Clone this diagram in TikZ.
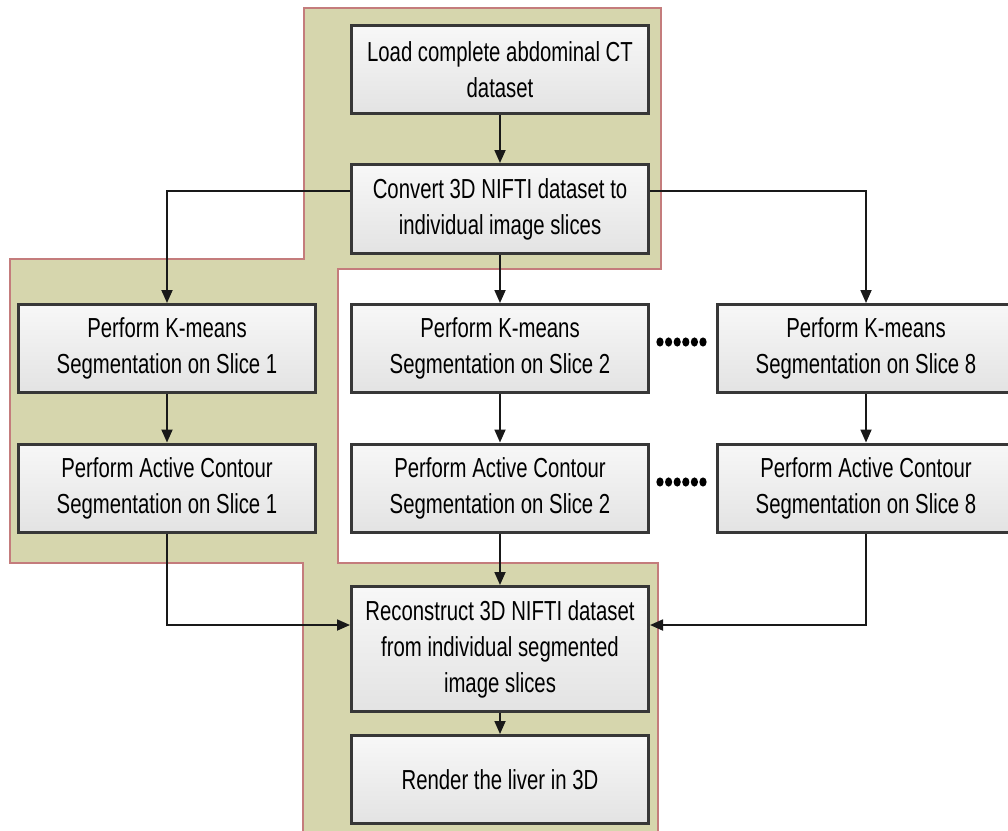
\documentclass[tikz,border=0pt]{standalone}
\usepackage{fontspec}
\setmainfont{Liberation Sans}[FakeStretch=0.74]
\usetikzlibrary{arrows.meta}
\definecolor{olivefill}{RGB}{214,214,173}
\definecolor{pinkline}{RGB}{196,124,124}
\definecolor{boxline}{RGB}{55,55,55}
\begin{document}
\begin{tikzpicture}[x=1pt,y=-1pt,
  box/.style={draw=boxline, line width=3pt, top color=gray!6, bottom color=gray!22,
    minimum width=297pt, minimum height=88pt, align=center, inner sep=2pt,
    font=\fontsize{27.5}{36}\selectfont},
  arr/.style={-{Triangle[length=13pt,width=11pt]}, line width=1.8pt, draw=black!90},
  region/.style={draw=pinkline, fill=olivefill, line width=1.5pt},
  dotmark/.style={fill=black}]
\fill[white] (0,0) rectangle (1008,830);
\useasboundingbox (0,0) rectangle (1008,830);
\draw[region] (304,8) -- (661,8) -- (661,269) -- (338,269) -- (338,563) -- (658,563)
  -- (658,833) -- (303,833) -- (303,563) -- (10,563) -- (10,259) -- (304,259) -- cycle;

\node[box] (A) at (500,69.5) {Load complete abdominal CT\\dataset};
\node[box, minimum height=89pt] (B) at (500,209) {Convert 3D NIFTI dataset to\\individual image slices};
\node[box] (C1) at (167,348.5) {Perform K-means\\Segmentation on Slice 1};
\node[box] (C2) at (500,348.5) {Perform K-means\\Segmentation on Slice 2};
\node[box] (C8) at (866,348.5) {Perform K-means\\Segmentation on Slice 8};
\node[box] (D1) at (167,488) {Perform Active Contour\\Segmentation on Slice 1};
\node[box] (D2) at (500,488) {Perform Active Contour\\Segmentation on Slice 2};
\node[box] (D8) at (866,488) {Perform Active Contour\\Segmentation on Slice 8};
\node[box, minimum height=125pt] (R) at (500,649) {Reconstruct 3D NIFTI dataset\\from individual segmented\\image slices};
\node[box] (E) at (500,779.5) {Render the liver in 3D};

\foreach \i in {0,...,5} {
  \fill[dotmark] (660+8.6*\i,342) ellipse [x radius=3.6pt, y radius=4.6pt];
  \fill[dotmark] (660+8.6*\i,482) ellipse [x radius=3.6pt, y radius=4.6pt];
}

\draw[arr] (A) -- (B);
\draw[arr] ([yshift=18pt]B.west) -| (C1.north);
\draw[arr] ([yshift=18pt]B.east) -| (C8.north);
\draw[arr] (B) -- (C2);
\draw[arr] (C1) -- (D1);
\draw[arr] (C2) -- (D2);
\draw[arr] (C8) -- (D8);
\draw[arr] (D1.south) |- ([yshift=24pt]R.west);
\draw[arr] (D8.south) |- ([yshift=24pt]R.east);
\draw[arr] (D2) -- (R);
\draw[arr] (R) -- (E);
\end{tikzpicture}
\end{document}
